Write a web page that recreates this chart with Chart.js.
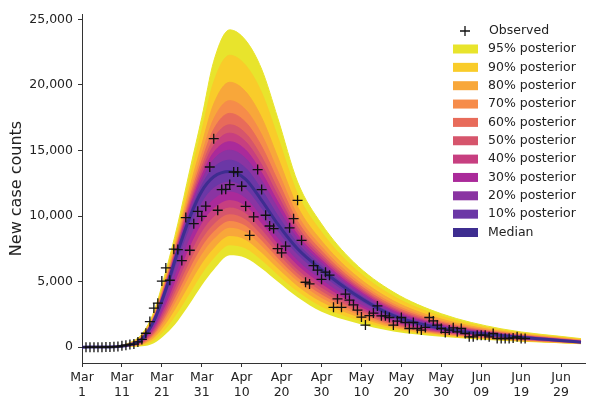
<!DOCTYPE html>
<html>
<head>
<meta charset="utf-8">
<script src="https://cdn.jsdelivr.net/npm/chart.js@4/dist/chart.umd.min.js"></script>
<style>
  html, body { margin: 0; padding: 0; background: #fff; }
  #wrap { width: 600px; height: 413px; }
</style>
</head>
<body>
<div id="wrap"><canvas id="chart" width="600" height="413"></canvas></div>
<script>
// days since Mar 1
const bandDays = [0, 8, 12, 15, 18, 21, 24, 27, 30, 33, 37, 41, 45, 49, 54, 60, 68, 78, 90, 105, 125];

const upper95 = [0, 60, 350, 1000, 2700, 5800, 9400, 13500, 17500, 21800, 24200, 23400, 21200, 17500, 12600, 9400, 6500, 4200, 2550, 1400, 650];
const upper90 = [0, 55, 320, 930, 2570, 5550, 9020, 12850, 16490, 20220, 22260, 21490, 19400, 16040, 11680, 8770, 6070, 3880, 2350, 1310, 600];
const upper80 = [0, 50, 290, 850, 2440, 5280, 8620, 12170, 15430, 18540, 20200, 19480, 17500, 14500, 10710, 8100, 5610, 3530, 2140, 1210, 550];
const upper70 = [0, 45, 265, 800, 2350, 5100, 8350, 11700, 14700, 17400, 18800, 18100, 16200, 13450, 10050, 7650, 5300, 3300, 1990, 1140, 515];
const upper60 = [0, 42, 250, 764, 2290, 4970, 8160, 11380, 14200, 16610, 17830, 17150, 15300, 12720, 9590, 7340, 5080, 3140, 1890, 1090, 490];
const upper50 = [0, 40, 236, 732, 2230, 4860, 7990, 11090, 13750, 15900, 16960, 16300, 14500, 12070, 9180, 7060, 4890, 2990, 1800, 1050, 470];
const upper40 = [0, 38, 226, 708, 2190, 4780, 7870, 10870, 13410, 15380, 16320, 15660, 13900, 11590, 8880, 6850, 4750, 2890, 1730, 1020, 453];
const upper30 = [0, 36, 216, 684, 2150, 4690, 7740, 10660, 13080, 14850, 15670, 15030, 13300, 11100, 8570, 6640, 4600, 2780, 1665, 990, 437];
const upper20 = [0, 35, 206, 660, 2105, 4610, 7615, 10440, 12740, 14320, 15020, 14390, 12700, 10620, 8270, 6430, 4460, 2670, 1600, 958, 420];
const upper10 = [0, 32, 194, 632, 2056, 4510, 7470, 10190, 12350, 13700, 14260, 13650, 12000, 10050, 7910, 6180, 4290, 2540, 1520, 922, 402];
const median  = [0, 30, 180, 600, 2000, 4400, 7300, 9900, 11900, 13000, 13400, 12800, 11200, 9400, 7500, 5900, 4100, 2400, 1430, 880, 380];
const lower10 = [0, 26, 161, 535, 1796, 3990, 6660, 9110, 11040, 12150, 12630, 12080, 10580, 8870, 7060, 5520, 3840, 2260, 1354, 832, 361];
const lower20 = [0, 23, 142, 470, 1592, 3584, 6028, 8316, 10172, 11296, 11864, 11360, 9952, 8344, 6612, 5132, 3572, 2112, 1279, 784, 342];
const lower30 = [0, 20, 126, 416, 1422, 3244, 5498, 7656, 9452, 10586, 11224, 10760, 9432, 7904, 6242, 4812, 3352, 1992, 1216, 744, 326];
const lower40 = [0, 17, 111, 368, 1269, 2938, 5021, 7062, 8804, 9947, 10648, 10220, 8964, 7508, 5909, 4524, 3154, 1884, 1159, 708, 311];
const lower50 = [0, 15, 98, 325, 1133, 2666, 4597, 6534, 8228, 9379, 10136, 9740, 8548, 7156, 5613, 4268, 2978, 1788, 1109, 676, 298];
const lower60 = [0, 12, 86, 281, 997, 2394, 4173, 6006, 7652, 8811, 9624, 9260, 8132, 6804, 5317, 4012, 2802, 1692, 1058, 644, 286];
const lower70 = [0, 10, 73, 238, 861, 2122, 3749, 5478, 7076, 8243, 9112, 8780, 7716, 6452, 5021, 3756, 2626, 1596, 1008, 612, 273];
const lower80 = [0, 7, 57, 184, 691, 1782, 3219, 4818, 6356, 7533, 8472, 8180, 7196, 6012, 4651, 3436, 2406, 1476, 945, 572, 257];
const lower90 = [0, 4, 39, 125, 504, 1408, 2636, 4092, 5564, 6752, 7768, 7520, 6624, 5528, 4244, 3084, 2164, 1344, 876, 528, 239];
const lower95 = [0, 0, 20, 60, 300, 1000, 2000, 3300, 4700, 5900, 7000, 6800, 6000, 5000, 3800, 2700, 1900, 1200, 800, 480, 220];

// observed daily new cases, Mar 2 (day 1) .. Jun 20 (day 111)
const obsFirstDay = 1;
const observed = [
  0, 0, 0, 0, 0, 10, 10, 20, 40, 100,
  150, 200, 230, 400, 590, 1060, 1950, 2980, 3350, 5040,
  6040, 5100, 7470, 7440, 6600, 9880, 7390, 9420, 10360, 9980,
  10750, 13740, 15900, 10440, 12020, 12040, 12400, 13360, 13360, 12270,
  10740, 8530, 9930, 13540, 12020, 10060, 9240, 9040, 7520, 7190,
  7700, 9100, 9800, 11200, 8150, 4950, 4820, 6220, 5870, 5170,
  5720, 5490, 3040, 3680, 3040, 4050, 3580, 3220, 2820, 2290,
  1680, 2400, 2600, 3140, 2390, 2390, 2260, 1680, 1990, 2260,
  1880, 1420, 1880, 1420, 1300, 1500, 2260, 2000, 1680, 1420,
  1120, 1300, 1470, 1170, 1420, 1040, 790, 790, 910, 910,
  910, 790, 1040, 660, 660, 660, 660, 700, 790, 660,
  660
];

const bandNames = ['95% posterior', '90% posterior', '80% posterior', '70% posterior', '60% posterior',
  '50% posterior', '40% posterior', '30% posterior', '20% posterior', '10% posterior'];
const bandColors = ['#e8e42c', '#f9cc2a', '#f8a73a', '#f68c4a', '#e86b5a',
  '#d6556c', '#c73f80', '#aa2a9a', '#8a34a2', '#6b37a6'];
const medianColor = '#3e2d90';
const upperBounds = [upper95, upper90, upper80, upper70, upper60, upper50, upper40, upper30, upper20, upper10];
const lowerBounds = [lower95, lower90, lower80, lower70, lower60, lower50, lower40, lower30, lower20, lower10];

const tickDays = [0, 10, 20, 30, 40, 50, 60, 70, 80, 90, 100, 110, 120];
const tickLabels = [['Mar', '1'], ['Mar', '11'], ['Mar', '21'], ['Mar', '31'], ['Apr', '10'], ['Apr', '20'],
  ['Apr', '30'], ['May', '10'], ['May', '20'], ['May', '30'], ['Jun', '09'], ['Jun', '19'], ['Jun', '29']];
const yTicks = [0, 5000, 10000, 15000, 20000, 25000];

const FONT = 'DejaVu Sans';
const TEXT = '#222';

function toPoints(values) {
  return values.map((v, i) => ({ x: bandDays[i], y: v }));
}

const datasets = [];

datasets.push({
  type: 'scatter',
  label: 'Observed',
  data: observed.map((v, i) => ({ x: obsFirstDay + i, y: v })),
  pointStyle: 'cross',
  pointRadius: 5,
  pointBorderColor: '#111',
  pointBorderWidth: 1.3,
  showLine: false,
  order: 0
});

datasets.push({
  label: 'Median',
  data: toPoints(median),
  borderColor: medianColor,
  borderWidth: 3,
  pointRadius: 0,
  fill: false,
  cubicInterpolationMode: 'monotone',
  order: 1
});

bandNames.forEach((name, i) => {
  const upperIndex = datasets.length;
  datasets.push({
    label: name,
    data: toPoints(upperBounds[i]),
    borderColor: bandColors[i],
    borderWidth: 1,
    backgroundColor: bandColors[i],
    pointRadius: 0,
    fill: { target: upperIndex + 1 },
    cubicInterpolationMode: 'monotone',
    order: 11 - i
  });
  datasets.push({
    label: name + ' lower',
    data: toPoints(lowerBounds[i]),
    borderColor: 'rgba(0,0,0,0)',
    borderWidth: 1,
    pointRadius: 0,
    fill: false,
    cubicInterpolationMode: 'monotone',
    order: 11 - i
  });
});

// legend drawn in the upper right, like the original
const legendPlugin = {
  id: 'fanLegend',
  afterDraw(chart) {
    const ctx = chart.ctx;
    ctx.save();
    ctx.font = '12.5px ' + FONT;
    ctx.fillStyle = TEXT;
    ctx.textBaseline = 'middle';
    ctx.textAlign = 'left';

    // observed marker
    ctx.strokeStyle = '#111';
    ctx.lineWidth = 1.3;
    ctx.beginPath();
    ctx.moveTo(460, 31); ctx.lineTo(470, 31);
    ctx.moveTo(465, 26); ctx.lineTo(465, 36);
    ctx.stroke();
    ctx.fillText('Observed', 489, 31);

    const names = bandNames.concat(['Median']);
    const colors = bandColors.concat([medianColor]);
    names.forEach((name, i) => {
      const y = 49 + i * 18.35;
      ctx.fillStyle = colors[i];
      ctx.fillRect(453, y - 4.5, 25, 9);
      ctx.fillStyle = TEXT;
      ctx.fillText(name, 488, y);
    });
    ctx.restore();
  }
};

new Chart(document.getElementById('chart'), {
  type: 'line',
  data: { datasets: datasets },
  options: {
    responsive: false,
    animation: false,
    devicePixelRatio: 1,
    layout: { padding: { top: 14, right: 15, left: 0, bottom: 0 } },
    plugins: {
      legend: { display: false },
      tooltip: { enabled: false },
      filler: { propagate: false }
    },
    scales: {
      x: {
        type: 'linear',
        min: 0,
        max: 126,
        afterBuildTicks: (scale) => { scale.ticks = tickDays.map(v => ({ value: v })); },
        afterFit: (scale) => { scale.height = 50; },
        ticks: {
          autoSkip: false,
          maxRotation: 0,
          padding: 3,
          color: TEXT,
          font: { family: FONT, size: 12.5 },
          callback: (value) => tickLabels[tickDays.indexOf(value)]
        },
        grid: { drawOnChartArea: false, drawTicks: true, tickLength: 4, color: '#333', tickWidth: 1 },
        border: { display: true, color: '#333', width: 1 }
      },
      y: {
        min: -1210,
        max: 25410,
        afterBuildTicks: (scale) => { scale.ticks = yTicks.map(v => ({ value: v })); },
        afterFit: (scale) => { scale.width = 82; },
        ticks: {
          padding: 5,
          color: TEXT,
          font: { family: FONT, size: 12.5 },
          callback: (value) => value.toLocaleString('en-US')
        },
        grid: { drawOnChartArea: false, drawTicks: true, tickLength: 4, color: '#333', tickWidth: 1 },
        border: { display: true, color: '#333', width: 1 },
        title: {
          display: true,
          text: 'New case counts',
          color: TEXT,
          font: { family: FONT, size: 16 },
          padding: { top: 7, bottom: 0 }
        }
      }
    }
  },
  plugins: [legendPlugin]
});
</script>
</body>
</html>
